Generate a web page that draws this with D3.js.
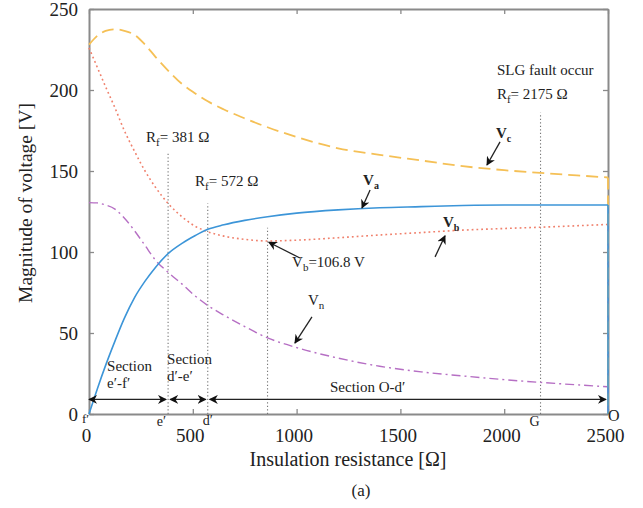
<!DOCTYPE html>
<html>
<head>
<meta charset="utf-8">
<script src="https://cdn.jsdelivr.net/npm/d3@7/dist/d3.min.js"></script>
<style>
  html, body { margin: 0; padding: 0; background: #fff; }
  svg { display: block; font-family: "Liberation Serif", "Times New Roman", serif; }
</style>
</head>
<body>
<svg id="chart" width="643" height="508"></svg>
<script>
// ---------------- data ----------------
const resistance = [0, 40, 80, 125, 170, 220, 270, 320, 381, 450, 510, 572, 650, 750, 860, 1000, 1200, 1400, 1600, 1800, 2000, 2175, 2350, 2500];
const Va = [0, 15.5, 30, 45, 59, 72, 82, 90.5, 99, 105.5, 110, 114, 116.8, 119.5, 121.8, 124, 126, 127.3, 128, 128.7, 129, 129, 129, 129];
const Vb = [226, 214, 202, 189, 175, 162, 150, 140, 130, 121.5, 116, 112.5, 109.8, 107.8, 106.8, 107.3, 108.8, 110.5, 112, 113.5, 114.5, 115.3, 116.2, 117];
const Vc = [228, 233.5, 236.5, 237.5, 236.5, 234, 228, 220.5, 212, 203.5, 198, 193, 188, 182.5, 177, 171, 164, 160, 156.5, 153, 150.5, 148.8, 147.3, 146];
const Vn = [130.5, 130.3, 129, 126.5, 121, 113, 104, 95, 87.5, 80, 73, 67, 61, 54, 47, 41, 34.5, 29.5, 26, 23.5, 21.2, 19.5, 18, 16.8];

const xTicks = [0, 500, 1000, 1500, 2000, 2500];
const yTicks = [0, 50, 100, 150, 200, 250];

// vertical marker lines: [resistance, top value]
const markerR = [381, 572, 860, 2175];
const markerTop = [161, 130, 115, 186];

// section boundaries
const sectionBounds = [0, 381, 572, 2500];
const sectionLevel = 9;

// ---------------- layout ----------------
const svg = d3.select("#chart");
const M = { left: 89, top: 9, right: 35, bottom: 94 };
const W = 643 - M.left - M.right;   // 519
const H = 508 - M.top - M.bottom;   // 405

const x = d3.scaleLinear().domain([0, 2500]).range([M.left, M.left + W]);
const y = d3.scaleLinear().domain([0, 250]).range([M.top + H, M.top]);

const frameColor = "#8a8a8a";

// defs: arrowheads
const defs = svg.append("defs");
function arrowMarker(id, orient) {
  defs.append("marker")
    .attr("id", id)
    .attr("viewBox", "0 0 10 10")
    .attr("refX", 9).attr("refY", 5)
    .attr("markerWidth", 9).attr("markerHeight", 9)
    .attr("markerUnits", "userSpaceOnUse")
    .attr("orient", orient)
    .append("path")
    .attr("d", "M0,0 L10,5 L0,10 L3,5 Z")
    .attr("fill", "#111");
}
arrowMarker("arrEnd", "auto");
arrowMarker("arrStart", "auto-start-reverse");

// ---------------- axes ----------------
const gx = svg.append("g").attr("transform", `translate(0,${M.top + H})`)
  .call(d3.axisBottom(x).tickValues(xTicks).tickFormat(d3.format("d")).tickSizeInner(-5).tickSizeOuter(0).tickPadding(15));
const gxTop = svg.append("g").attr("transform", `translate(0,${M.top})`)
  .call(d3.axisTop(x).tickValues(xTicks).tickSizeInner(-5).tickSizeOuter(0).tickFormat(""));
const gy = svg.append("g").attr("transform", `translate(${M.left},0)`)
  .call(d3.axisLeft(y).tickValues(yTicks).tickSizeInner(-5).tickSizeOuter(0).tickPadding(11));
const gyR = svg.append("g").attr("transform", `translate(${M.left + W},0)`)
  .call(d3.axisRight(y).tickValues(yTicks).tickSizeInner(-5).tickSizeOuter(0).tickFormat(""));

[gx, gxTop, gy, gyR].forEach(g => {
  g.select(".domain").attr("stroke", frameColor).attr("stroke-width", 2);
  g.selectAll(".tick line").attr("stroke", frameColor).attr("stroke-width", 1.3);
  g.selectAll(".tick text").attr("font-family", "Liberation Serif").attr("fill", "#222");
});
gx.selectAll(".tick text").attr("font-size", 19).attr("dx", -3);
gy.selectAll(".tick text").attr("font-size", 19).attr("dy", "0.34em");

// ---------------- vertical dotted marker lines ----------------
svg.append("g").selectAll("line").data(markerR).join("line")
  .attr("x1", d => x(d)).attr("x2", d => x(d))
  .attr("y1", y(0)).attr("y2", (d, i) => y(markerTop[i]))
  .attr("stroke", "#777").attr("stroke-width", 1.1)
  .attr("stroke-dasharray", "1.3,2.2");

// ---------------- curves ----------------
const line = d3.line().x(d => x(d[0])).y(d => y(d[1])).curve(d3.curveMonotoneX);
const series = [
  { vals: Vn, color: "#b66fc4", dash: "9,4,2,4", width: 1.4 },
  { vals: Vb, color: "#f0806c", dash: "1.8,3", width: 1.6 },
  { vals: Vc, color: "#f5c056", dash: "12,6", width: 1.8 },
  { vals: Va, color: "#3c95d8", dash: null, width: 1.6 }
];
series.forEach(s => {
  const pts = resistance.map((r, i) => [r, s.vals[i]]);
  svg.append("path").datum(pts)
    .attr("d", line)
    .attr("fill", "none")
    .attr("stroke", s.color)
    .attr("stroke-width", s.width)
    .attr("stroke-dasharray", s.dash);
  // drop to zero at the end of the range
  const last = pts[pts.length - 1];
  svg.append("line")
    .attr("x1", x(last[0])).attr("x2", x(last[0]))
    .attr("y1", y(last[1])).attr("y2", y(0))
    .attr("stroke", s.color).attr("stroke-width", s.width)
    .attr("stroke-dasharray", s.dash);
});

// ---------------- section arrows ----------------
for (let i = 0; i < sectionBounds.length - 1; i++) {
  const a = sectionBounds[i], b = sectionBounds[i + 1];
  svg.append("line")
    .attr("x1", x(a) + (i === 0 ? 0 : 2)).attr("x2", x(b) - 2)
    .attr("y1", y(sectionLevel)).attr("y2", y(sectionLevel))
    .attr("stroke", "#222").attr("stroke-width", 1.3)
    .attr("marker-start", "url(#arrStart)")
    .attr("marker-end", "url(#arrEnd)");
}

// ---------------- annotation arrows ----------------
const arrows = [
  { from: [1354, 138.3], to: [1315, 127.2] },   // Va
  { from: [1980, 168], to: [1917, 153.7] },     // Vc
  { from: [1667, 97], to: [1715, 110] },        // Vb
  { from: [1016, 96.3], to: [866, 106] },       // Vb min
  { from: [1074, 60], to: [992, 43.8] }         // Vn
];
svg.append("g").selectAll("line").data(arrows).join("line")
  .attr("x1", d => x(d.from[0])).attr("y1", d => y(d.from[1]))
  .attr("x2", d => x(d.to[0])).attr("y2", d => y(d.to[1]))
  .attr("stroke", "#222").attr("stroke-width", 1.3)
  .attr("marker-end", "url(#arrEnd)");

// ---------------- text helpers ----------------
function subText(px, py, main, sub, rest, opts) {
  const o = Object.assign({ size: 15, subSize: 11, bold: false, anchor: "start" }, opts || {});
  const t = svg.append("text")
    .attr("x", px).attr("y", py)
    .attr("font-size", o.size)
    .attr("font-weight", o.bold ? "bold" : "normal")
    .attr("text-anchor", o.anchor)
    .attr("fill", "#222");
  t.append("tspan").text(main);
  t.append("tspan").attr("font-size", o.subSize).attr("dy", 4).text(sub);
  if (rest) t.append("tspan").attr("dy", -4).text(rest);
  return t;
}

// Rf labels
subText(x(275), y(168), "R", "f", "= 381 \u03A9");
subText(x(511), y(141), "R", "f", "= 572 \u03A9");
svg.append("text").attr("x", x(1965)).attr("y", y(209)).attr("font-size", 15).attr("fill", "#222").text("SLG fault occur");
subText(x(1965), y(194.4), "R", "f", "= 2175 \u03A9");

// series labels
subText(x(1320), y(141.6), "V", "a", null, { bold: true, size: 15, subSize: 10 });
subText(x(1960), y(170.6), "V", "c", null, { bold: true, size: 15, subSize: 10 });
subText(x(1705), y(115.4), "V", "b", null, { bold: true, size: 15, subSize: 10 });
subText(x(978), y(90.7), "V", "b", "=106.8 V");
subText(x(1055), y(67.3), "V", "n", null);

// section labels
function twoLine(px, py1, py2, l1, l2) {
  svg.append("text").attr("x", px).attr("y", py1).attr("font-size", 15).attr("fill", "#222").text(l1);
  svg.append("text").attr("x", px).attr("y", py2).attr("font-size", 15).attr("fill", "#222").text(l2);
}
twoLine(x(87), y(26.3), y(16.3), "Section", "e\u2032-f\u2032");
twoLine(x(376), y(30.7), y(20.5), "Section", "d\u2032-e\u2032");
svg.append("text").attr("x", x(1161)).attr("y", y(13.5)).attr("font-size", 15).attr("fill", "#222").text("Section O-d\u2032");

// point labels on the axis
const ptLabel = (px, py, txt, anchor, size) => svg.append("text").attr("x", px).attr("y", py)
  .attr("font-size", size || 14).attr("text-anchor", anchor).attr("fill", "#222").text(txt);
ptLabel(x(0) - 7, y(0) + 9, "f\u2032", "start", 13);
ptLabel(x(381) - 2, y(0) + 12, "e\u2032", "end");
ptLabel(x(572) - 5, y(0) + 11, "d\u2032", "start");
ptLabel(x(2175) - 1, y(0) + 12, "G", "end");
svg.append("text").attr("x", x(2500)).attr("y", y(0) + 7).attr("font-size", 16).attr("fill", "#222").text("O");

// ---------------- axis titles ----------------
svg.append("text").attr("x", 348).attr("y", 466).attr("text-anchor", "middle")
  .attr("font-size", 20).attr("fill", "#222").text("Insulation resistance [\u03A9]");
svg.append("text").attr("x", 361).attr("y", 496).attr("text-anchor", "middle")
  .attr("font-size", 17).attr("fill", "#222").text("(a)");
svg.append("text").attr("transform", "translate(32,203) rotate(-90)").attr("text-anchor", "middle")
  .attr("font-size", 19.5).attr("fill", "#222").text("Magnitude of voltage [V]");
</script>
</body>
</html>
